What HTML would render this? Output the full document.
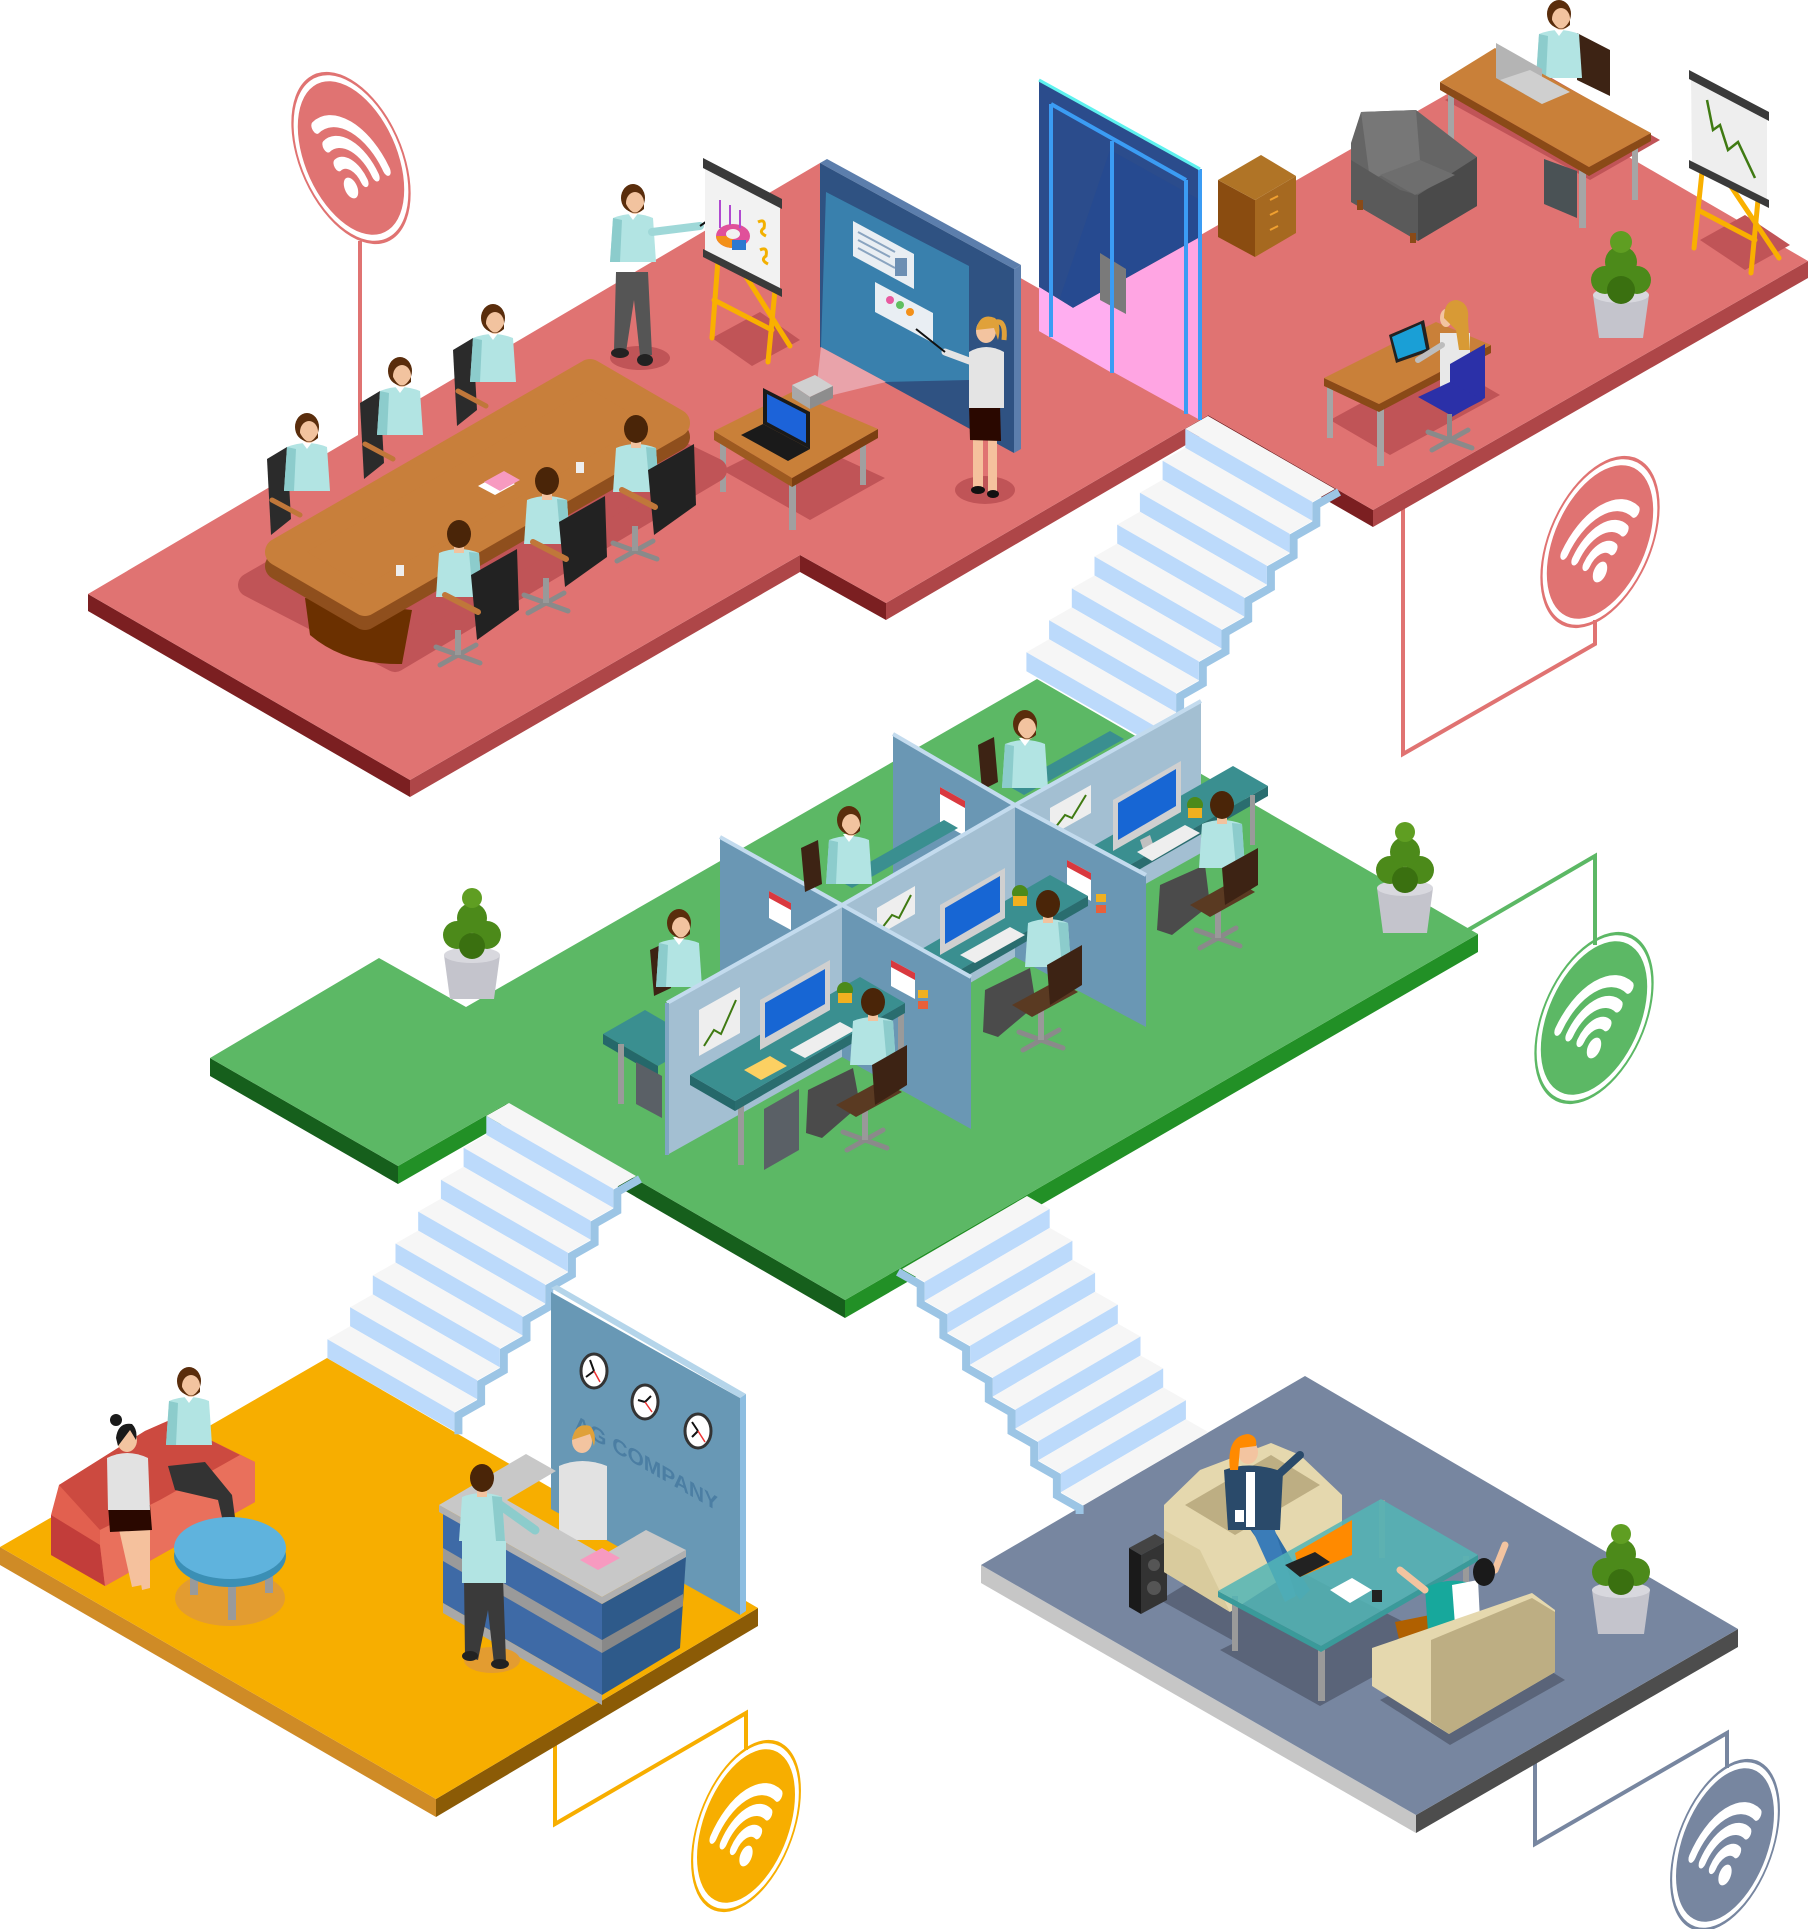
<!DOCTYPE html>
<html><head><meta charset="utf-8"><style>html,body{margin:0;padding:0;background:#fff}svg{display:block}</style></head>
<body>
<svg width="1809" height="1929" viewBox="0 0 1809 1929" xmlns="http://www.w3.org/2000/svg">
<defs>
 <g id="wifi">
  <circle r="77" fill="none" stroke="currentColor" stroke-width="3"/>
  <circle r="70" fill="currentColor"/>
  <path d="M-46.7,-9.2 A61,61 0 0 1 46.7,-9.2 M-32.2,3 A42,42 0 0 1 32.2,3 M-17.6,15.2 A23,23 0 0 1 17.6,15.2" fill="none" stroke="#fff" stroke-width="11" stroke-linecap="round"/>
  <circle cx="0" cy="30" r="9.5" fill="#fff"/>
 </g>
 <g id="stepL">
  <polygon points="0,0 127,73 104.3,85.9 -22.7,12.9" fill="#f6f6f6"/>
  <polygon points="-22.7,12.9 104.3,85.9 104.3,104.9 -22.7,31.9" fill="#bcdafb"/>
 </g>
 <g id="stairsL">
  <polyline transform="translate(4,3)" points="127,73 104.3,85.9 104.3,104.9 81.6,117.8 81.6,136.8 58.9,149.7 58.9,168.7 36.2,181.6 36.2,200.6 13.5,213.5 13.5,232.5 -9.2,245.4 -9.2,264.4 -31.9,277.3 -31.9,296.3 -54.6,309.2 -54.6,328.2" fill="none" stroke="#9cc5e5" stroke-width="8"/>
  <use href="#stepL"/>
  <use href="#stepL" x="-22.7" y="31.9"/>
  <use href="#stepL" x="-45.4" y="63.8"/>
  <use href="#stepL" x="-68.1" y="95.7"/>
  <use href="#stepL" x="-90.8" y="127.6"/>
  <use href="#stepL" x="-113.5" y="159.5"/>
  <use href="#stepL" x="-136.2" y="191.4"/>
  <use href="#stepL" x="-158.9" y="223.3"/>
 </g>
 <g id="stepR">
  <polygon points="0,0 125,-73 147.7,-60.1 22.7,12.9" fill="#f6f6f6"/>
  <polygon points="22.7,12.9 147.7,-60.1 147.7,-41.1 22.7,31.9" fill="#bcdafb"/>
 </g>
 <g id="treadR">
  <polygon points="0,0 125,-73 147.7,-60.1 22.7,12.9" fill="#f6f6f6"/>
 </g>
 <g id="manF">
  <path d="M-20,18 Q0,10 20,18 L23,62 L-23,62 Z" fill="#b2e4e3"/>
  <path d="M-20,18 L-23,62 L-13,62 L-11,20 Z" fill="#8ccccc"/>
  <path d="M-6,12 L6,12 L0,20 Z" fill="#fff"/>
  <ellipse cx="0" cy="-2" rx="12" ry="14" fill="#5a2d0c"/>
  <ellipse cx="2" cy="3" rx="9" ry="11" fill="#f2c39f"/>
  <path d="M-7,4 Q2,21 11,4 L11,9 Q2,17 -7,9 Z" fill="#5a2d0c"/>
 </g>
 <g id="manB">
  <path d="M-20,18 Q0,10 20,18 L23,62 L-23,62 Z" fill="#b2e4e3"/>
  <path d="M10,17 L20,18 L23,62 L14,62 Z" fill="#8ccccc"/>
  <rect x="-5" y="8" width="10" height="10" fill="#f2c39f"/>
  <ellipse cx="0" cy="-1" rx="12" ry="14" fill="#4a2508"/>
 </g>
 <g id="starBase" stroke="#8a8a8a" stroke-width="5" stroke-linecap="round">
  <line x1="-22" y1="-8" x2="22" y2="8"/>
  <line x1="-18" y1="10" x2="18" y2="-10"/>
 </g>
</defs>
<rect width="1809" height="1929" fill="#fff"/>

<!-- connectors -->
<g fill="none" stroke-width="4">
 <polyline points="360,241 360,445" stroke="#e07372"/>
 <polyline points="1403,500 1403,754 1595,644 1595,620" stroke="#e07372"/>
 <polyline points="1468,930 1595,856 1595,945" stroke="#5cb865"/>
 <polyline points="555,1735 555,1824 746,1713 746,1750" stroke="#f7ae00"/>
 <polyline points="1535,1755 1535,1844 1727,1733 1727,1768" stroke="#7786a0"/>
</g>
<use href="#wifi" transform="matrix(0.76,0.45,0,1,351,158)" color="#e07372"/>
<use href="#wifi" transform="matrix(0.76,-0.45,0,1,1600,542)" color="#e07372"/>
<use href="#wifi" transform="matrix(0.76,-0.45,0,1,1594,1018)" color="#5cb865"/>
<use href="#wifi" transform="matrix(0.7,-0.45,0,1,746,1826)" color="#f7ae00"/>
<use href="#wifi" transform="matrix(0.7,-0.45,0,1,1725,1845)" color="#7786a0"/>

<!-- PINK FLOOR -->
<g>
 <polygon points="88,594 410,780 410,797 88,611" fill="#7b1f21"/>
 <polygon points="800,555 886,603 886,620 800,572" fill="#7b1f21"/>
 <polygon points="1208,415 1373,510 1373,527 1208,432" fill="#7b1f21"/>
 <polygon points="410,780 800,555 800,572 410,797" fill="#ae4648"/>
 <polygon points="886,603 1208,415 1208,432 886,620" fill="#ae4648"/>
 <polygon points="1373,510 1808,261 1808,278 1373,527" fill="#ae4648"/>
 <polygon points="88,594 820,163 1073,308 1484,73 1808,261 1373,510 1208,415 886,603 800,555 410,780" fill="#e07372"/>
</g>

<!-- GREEN FLOOR -->
<g>
 <polygon points="210,1058 398,1166 398,1184 210,1076" fill="#165f1c"/>
 <polygon points="506,1104 845,1300 845,1318 506,1122" fill="#165f1c"/>
 <polygon points="398,1166 506,1104 506,1122 398,1184" fill="#229026"/>
 <polygon points="845,1300 1478,934 1478,952 845,1318" fill="#229026"/>
 <polygon points="210,1058 379,958 466,1007 1037,679 1478,934 845,1300 506,1104 398,1166" fill="#5cb865"/>
</g>

<!-- YELLOW FLOOR -->
<g>
 <polygon points="0,1547 436,1799 436,1817 0,1565" fill="#cf8b26"/>
 <polygon points="436,1799 758,1608 758,1626 436,1817" fill="#8b5b06"/>
 <polygon points="0,1547 327,1358 758,1608 436,1799" fill="#f7ae00"/>
</g>

<!-- GRAY FLOOR -->
<g>
 <polygon points="981,1565 1416,1815 1416,1833 981,1583" fill="#c6c6c6"/>
 <polygon points="1416,1815 1738,1629 1738,1647 1416,1833" fill="#4d4d4d"/>
 <polygon points="981,1565 1305,1376 1738,1629 1416,1815" fill="#7786a0"/>
</g>

<!-- STAIRS -->
<use href="#stairsL" x="1208" y="416"/>
<use href="#stairsL" x="509" y="1103"/>
<g transform="translate(902,1269)">
 <polyline transform="translate(-4,3)" points="0,0 22.7,12.9 22.7,31.9 45.4,44.8 45.4,63.8 68.1,76.7 68.1,95.7 90.8,108.6 90.8,127.6 113.5,140.5 113.5,159.5 136.2,172.4 136.2,191.4 158.9,204.3 158.9,223.3 181.6,236.2 181.6,242" fill="none" stroke="#9cc5e5" stroke-width="8"/>
 <use href="#stepR"/>
 <use href="#stepR" x="22.7" y="31.9"/>
 <use href="#stepR" x="45.4" y="63.8"/>
 <use href="#stepR" x="68.1" y="95.7"/>
 <use href="#stepR" x="90.8" y="127.6"/>
 <use href="#stepR" x="113.5" y="159.5"/>
 <use href="#stepR" x="136.2" y="191.4"/>
 <use href="#treadR" x="158.9" y="223.3"/>
</g>

<!-- ===== PINK ROOM: right section ===== -->
<polygon points="1700,240 1745,215 1790,245 1745,270" fill="#c05457"/>
<g stroke="#f9b000" stroke-width="5" stroke-linecap="round">
 <line x1="1702" y1="172" x2="1694" y2="248"/>
 <line x1="1758" y1="200" x2="1751" y2="273"/>
 <line x1="1730" y1="185" x2="1779" y2="258"/>
 <line x1="1698" y1="210" x2="1755" y2="240"/>
</g>
<polygon points="1691,76 1767,118 1767,202 1692,163" fill="#eeeeee"/>
<polygon points="1689,70 1769,112 1769,121 1689,79" fill="#3a3a3a"/>
<polygon points="1689,160 1769,200 1769,208 1689,168" fill="#3a3a3a"/>
<polyline points="1707,100 1713,130 1720,125 1728,150 1738,142 1755,178" fill="none" stroke="#3f7a12" stroke-width="2.5"/>

<polygon points="1445,100 1590,180 1660,140 1520,60" fill="#c05457"/>
<polygon points="1577,33 1610,50 1610,96 1577,80" fill="#3d2314"/>
<use href="#manF" x="1559" y="16"/>
<polygon points="1544,159 1577,171 1577,218 1544,204" fill="#4a5255"/>
<g fill="#a5a5a5">
 <rect x="1448" y="90" width="6" height="60"/>
 <rect x="1579" y="170" width="7" height="58"/>
 <rect x="1632" y="140" width="6" height="60"/>
</g>
<polygon points="1440,82 1589,167 1651,133 1651,141 1589,176 1440,90" fill="#8a4a17"/>
<polygon points="1440,82 1495,48 1651,133 1589,167" fill="#c98039"/>
<polygon points="1496,43 1542,69 1542,104 1496,78" fill="#b4b4b4"/>
<polygon points="1542,104 1570,92 1530,70 1500,80" fill="#cfcfcf"/>

<!-- armchair -->
<polygon points="1351,143 1361,112 1416,110 1477,157 1477,206 1418,241 1351,202" fill="#656565"/>
<polygon points="1361,112 1416,110 1420,160 1370,180" fill="#777"/>
<polygon points="1418,195 1477,157 1477,206 1418,241" fill="#4a4a4a"/>
<polygon points="1351,160 1400,190 1418,195 1418,241 1351,202" fill="#5a5a5a"/>
<polygon points="1380,175 1420,160 1455,175 1415,195" fill="#6e6e6e"/>
<rect x="1357" y="200" width="6" height="10" fill="#8a4a17"/>
<rect x="1410" y="233" width="6" height="10" fill="#8a4a17"/>

<!-- cabinet -->
<polygon points="1218,180 1255,200 1255,257 1218,237" fill="#8a4c10"/>
<polygon points="1255,200 1296,176 1296,233 1255,257" fill="#a66920"/>
<polygon points="1218,180 1261,155 1296,176 1255,200" fill="#b07426"/>
<g stroke="#f0a030" stroke-width="2" fill="none">
 <path d="M1270,200 l8,-4"/><path d="M1270,215 l8,-4"/><path d="M1270,230 l8,-4"/>
</g>

<!-- plant right -->
<polygon points="1593,295 1649,295 1643,338 1599,338" fill="#c4c4cc"/>
<ellipse cx="1621" cy="295" rx="28" ry="8" fill="#d8d8de"/>
<g fill="#4c8a1a">
 <circle cx="1605" cy="280" r="14"/><circle cx="1637" cy="280" r="14"/>
 <circle cx="1621" cy="262" r="16"/><circle cx="1621" cy="290" r="14" fill="#3a7010"/>
 <circle cx="1621" cy="242" r="11" fill="#5f9e22"/>
</g>

<!-- woman desk -->
<polygon points="1330,420 1440,360 1500,395 1390,455" fill="#c05457"/>
<g fill="#a5a5a5">
 <rect x="1327" y="383" width="6" height="55"/>
 <rect x="1377" y="408" width="7" height="58"/>
 <rect x="1478" y="350" width="6" height="48"/>
</g>
<polygon points="1324,378 1379,404 1491,345 1491,353 1379,412 1324,386" fill="#8a4a17"/>
<polygon points="1324,378 1436,322 1491,345 1379,404" fill="#c98039"/>
<polygon points="1389,335 1424,320 1430,351 1396,363" fill="#222"/>
<polygon points="1392,337 1421,324 1426,349 1398,359" fill="#1a9fd6"/>
<rect x="1440" y="333" width="30" height="56" fill="#e8e8e8"/>
<line x1="1442" y1="345" x2="1418" y2="360" stroke="#bdbdbd" stroke-width="6" stroke-linecap="round"/>
<ellipse cx="1446" cy="318" rx="6" ry="9" fill="#f3c4a0"/>
<path d="M1444,318 Q1444,300 1457,300 Q1470,303 1468,320 L1470,350 L1459,350 L1456,330 Z" fill="#d89a35"/>
<polygon points="1450,364 1485,344 1485,398 1450,418" fill="#2b30a8"/>
<polygon points="1418,397 1450,382 1483,400 1452,416" fill="#2b30a8"/>
<use href="#starBase" x="1450" y="440"/>
<rect x="1447" y="414" width="5" height="24" fill="#8a8a8a"/>

<!-- DOOR -->
<polygon points="1039,80 1200,169 1200,237 1073,308 1039,287" fill="#2b4c8c"/>
<polygon points="1110,150 1200,200 1200,237 1073,308 1060,298" fill="#264a90"/>
<polygon points="1039,287 1073,308 1200,237 1200,420 1039,331" fill="#ffa5e3"/>
<polygon points="1039,287 1073,308 1112,286 1112,373 1039,331" fill="#ffaef0"/>
<polygon points="1100,253 1126,269 1126,314 1100,300" fill="#7a7a7a"/>
<g stroke="#3b9cf4" stroke-width="4" fill="none">
 <line x1="1051" y1="104" x2="1051" y2="337"/>
 <line x1="1112" y1="141" x2="1112" y2="373"/>
 <line x1="1186" y1="180" x2="1186" y2="414"/>
 <line x1="1051" y1="104" x2="1186" y2="180"/>
 <line x1="1200" y1="169" x2="1200" y2="420"/>
</g>
<line x1="1039" y1="80" x2="1200" y2="169" stroke="#5ef2ef" stroke-width="3"/>

<!-- PROJECTION WALL -->
<polygon points="1014,269 1021,265 1021,449 1014,453" fill="#5c7eac"/>
<polygon points="820,163 827,159 1021,265 1014,269" fill="#5c7eac"/>
<polygon points="820,163 1014,269 1014,453 820,347" fill="#2f5282"/>
<polygon points="826,192 969,266 969,380 886,382 821,347" fill="#3980ad"/>
<polygon points="821,347 886,382 833,395 816,392" fill="#e9a3aa"/>
<polygon points="853,221 914,254 914,289 853,256" fill="#e9eef3"/>
<polygon points="875,282 933,313 933,343 875,312" fill="#e9eef3"/>
<g stroke="#8aa4c0" stroke-width="2">
 <line x1="858" y1="232" x2="895" y2="252"/><line x1="858" y1="240" x2="890" y2="257"/><line x1="858" y1="248" x2="895" y2="268"/>
</g>
<rect x="895" y="258" width="12" height="18" fill="#6d8fb3"/>
<g fill="#e85aa0"><circle cx="890" cy="300" r="4"/></g>
<g fill="#60c060"><circle cx="900" cy="305" r="4"/></g>
<g fill="#f39019"><circle cx="910" cy="312" r="4"/></g>

<!-- presenter man + easel -->
<ellipse cx="640" cy="358" rx="30" ry="12" fill="#c05457"/>
<polygon points="712,338 760,312 800,340 752,366" fill="#c05457"/>
<polygon points="616,272 648,272 652,355 640,356 634,300 626,352 614,350" fill="#555"/>
<ellipse cx="620" cy="353" rx="9" ry="5" fill="#222"/>
<ellipse cx="645" cy="360" rx="8" ry="6" fill="#222"/>
<use href="#manF" x="633" y="200"/>
<line x1="652" y1="232" x2="700" y2="226" stroke="#9fd8d8" stroke-width="8" stroke-linecap="round"/>
<line x1="700" y1="226" x2="742" y2="197" stroke="#111" stroke-width="2"/>
<g stroke="#f9b000" stroke-width="5" stroke-linecap="round">
 <line x1="718" y1="260" x2="712" y2="338"/>
 <line x1="775" y1="290" x2="768" y2="362"/>
 <line x1="745" y1="275" x2="790" y2="346"/>
 <line x1="714" y1="300" x2="772" y2="330"/>
</g>
<polygon points="705,165 780,204 780,292 705,253" fill="#f2f2f2"/>
<polygon points="703,158 782,199 782,209 703,168" fill="#3a3a3a"/>
<polygon points="703,249 782,289 782,297 703,257" fill="#3a3a3a"/>
<ellipse cx="733" cy="236" rx="17" ry="12" fill="#e0509a"/>
<path d="M716,236 A17,12 0 0 0 733,248 L733,236 Z" fill="#f39019"/>
<ellipse cx="733" cy="234" rx="7" ry="5" fill="#f2f2f2"/>
<rect x="732" y="240" width="14" height="10" fill="#2d79d0"/>
<g stroke="#b04ad0" stroke-width="2"><line x1="720" y1="200" x2="720" y2="228"/><line x1="730" y1="205" x2="730" y2="225"/><line x1="740" y1="210" x2="740" y2="228"/></g>
<path d="M758,222 q8,-4 6,6 q-6,4 2,8" fill="none" stroke="#f3b000" stroke-width="3"/>
<path d="M760,250 q8,-4 6,6 q-6,4 2,8" fill="none" stroke="#f3b000" stroke-width="3"/>

<!-- small table -->
<polygon points="722,470 792,435 885,478 810,520" fill="#c05457"/>
<g fill="#a0a0a0">
 <rect x="720" y="438" width="6" height="54"/>
 <rect x="789" y="484" width="7" height="46"/>
 <rect x="860" y="435" width="6" height="50"/>
</g>
<polygon points="714,431 792,478 792,487 714,440" fill="#9d5a20"/>
<polygon points="792,478 878,429 878,438 792,487" fill="#7b3f12"/>
<polygon points="714,431 792,392 878,429 792,478" fill="#c98039"/>
<polygon points="741,435 763,424 810,449 788,461" fill="#1a1a1a"/>
<polygon points="763,388 810,412 810,449 763,424" fill="#1a1a1a"/>
<polygon points="767,394 806,414 806,443 767,422" fill="#1c63d9"/>
<polygon points="792,385 815,375 833,386 810,397" fill="#d0d0d0"/>
<polygon points="792,385 810,397 810,409 792,398" fill="#a8a8a8"/>
<polygon points="810,397 833,386 833,398 810,409" fill="#8d8d8d"/>

<!-- presenter woman -->
<ellipse cx="985" cy="490" rx="30" ry="14" fill="#c05457"/>
<rect x="973" y="437" width="10" height="52" fill="#f5c19d"/>
<rect x="988" y="440" width="9" height="52" fill="#f5c19d"/>
<ellipse cx="978" cy="490" rx="7" ry="4" fill="#111"/>
<ellipse cx="993" cy="494" rx="6" ry="4" fill="#111"/>
<polygon points="969,404 1000,405 1001,441 970,440" fill="#2a0800"/>
<path d="M969,352 Q986,342 1004,352 L1004,408 L969,408 Z" fill="#e4e4e4"/>
<line x1="972" y1="362" x2="945" y2="352" stroke="#e4e4e4" stroke-width="7" stroke-linecap="round"/>
<line x1="945" y1="352" x2="916" y2="329" stroke="#111" stroke-width="2"/>
<ellipse cx="986" cy="331" rx="10" ry="12" fill="#f3c4a0"/>
<path d="M976,330 Q980,312 995,318 Q1002,325 998,340 L994,328 Z" fill="#e0a13a"/>
<path d="M996,322 Q1006,320 1004,340" fill="none" stroke="#e0a13a" stroke-width="5"/>

<!-- MEETING TABLE -->
<polygon points="250,585 570,400 715,470 395,660" fill="#c05457" stroke="#c05457" stroke-width="24" stroke-linejoin="round"/>
<polygon points="267,459 287,447 291,519 271,535" fill="#2b2b2b"/>
<polygon points="360,403 380,391 384,463 364,479" fill="#2b2b2b"/>
<polygon points="453,350 473,338 477,410 457,426" fill="#2b2b2b"/>
<use href="#manF" x="307" y="429"/>
<use href="#manF" x="400" y="373"/>
<use href="#manF" x="493" y="320"/>
<g stroke="#c0773a" stroke-width="5" stroke-linecap="round">
 <line x1="272" y1="500" x2="300" y2="515"/>
 <line x1="365" y1="444" x2="393" y2="459"/>
 <line x1="458" y1="391" x2="486" y2="406"/>
</g>
<path d="M305,598 L310,635 Q345,665 402,664 L412,610 Z" fill="#6b3000"/>
<polygon points="279,566 590,387 676,437 365,616" fill="#8f4f1d" stroke="#8f4f1d" stroke-width="28" stroke-linejoin="round"/>
<polygon points="279,552 590,373 676,423 365,602" fill="#c87f3b" stroke="#c87f3b" stroke-width="28" stroke-linejoin="round"/>
<polygon points="478,486 498,475 515,484 495,495" fill="#fff"/>
<polygon points="484,482 504,471 520,480 500,491" fill="#f79ac0"/>
<rect x="396" y="565" width="8" height="11" fill="#eee"/>
<rect x="576" y="462" width="8" height="11" fill="#eee"/>
<use href="#manB" x="459" y="535"/>
<use href="#manB" x="547" y="482"/>
<use href="#manB" x="636" y="430"/>
<g fill="#222">
 <polygon points="471,575 517,549 519,610 477,640"/>
 <polygon points="559,522 605,496 607,557 565,587"/>
 <polygon points="648,470 694,444 696,505 654,535"/>
</g>
<g stroke="#c0773a" stroke-width="6" stroke-linecap="round">
 <line x1="445" y1="595" x2="478" y2="612"/>
 <line x1="533" y1="542" x2="566" y2="559"/>
 <line x1="622" y1="490" x2="655" y2="507"/>
</g>
<use href="#starBase" x="458" y="655"/>
<use href="#starBase" x="546" y="603"/>
<use href="#starBase" x="635" y="551"/>
<g fill="#999"><rect x="455" y="630" width="6" height="25"/><rect x="543" y="578" width="6" height="25"/><rect x="632" y="526" width="6" height="25"/></g>

<!-- ===== GREEN ROOM ===== -->
<polygon points="444,955 500,955 494,999 450,999" fill="#c4c4cc"/>
<ellipse cx="472" cy="955" rx="28" ry="8" fill="#d8d8de"/>
<g fill="#4c8a1a">
 <circle cx="457" cy="935" r="14"/><circle cx="487" cy="935" r="14"/>
 <circle cx="472" cy="918" r="15"/><circle cx="472" cy="946" r="13" fill="#3a7010"/>
 <circle cx="472" cy="898" r="10" fill="#5f9e22"/>
</g>
<polygon points="1377,888 1433,888 1427,933 1383,933" fill="#c4c4cc"/>
<ellipse cx="1405" cy="888" rx="28" ry="8" fill="#d8d8de"/>
<g fill="#4c8a1a">
 <circle cx="1390" cy="870" r="14"/><circle cx="1420" cy="870" r="14"/>
 <circle cx="1405" cy="852" r="15"/><circle cx="1405" cy="880" r="13" fill="#3a7010"/>
 <circle cx="1405" cy="832" r="10" fill="#5f9e22"/>
</g>

<!-- g1 -->
<polygon points="1010,787 1110,731 1124,739 1024,795" fill="#3a8f90"/>
<polygon points="978,745 994,737 998,782 982,790" fill="#3d2314"/>
<use href="#manF" x="1025" y="726"/>
<!-- D1, V1 -->
<polygon points="893,734 1015,805 1015,957 893,886" fill="#6a97b4"/>
<line x1="893" y1="734" x2="1015" y2="805" stroke="#c3dbee" stroke-width="4"/>
<polygon points="940,787 965,801 965,836 940,822" fill="#fff"/>
<polygon points="940,787 965,801 965,808 940,794" fill="#d9393f"/>
<polygon points="1015,805 1201,701 1201,853 1015,957" fill="#a3bfd2"/>
<line x1="1015" y1="805" x2="1201" y2="701" stroke="#c3dbee" stroke-width="4"/>
<polygon points="1050,808 1091,785 1091,813 1050,836" fill="#eee"/>
<polyline points="1055,828 1065,815 1072,818 1086,795" fill="none" stroke="#3f7a12" stroke-width="2"/>
<!-- g4 -->
<polygon points="1093,846 1233,766 1268,786 1128,866" fill="#3a8f90"/>
<polygon points="1128,866 1268,786 1268,796 1128,876" fill="#2a6d6f"/>
<rect x="1130" y="874" width="5" height="50" fill="#9a9a9a"/>
<rect x="1250" y="795" width="5" height="50" fill="#9a9a9a"/>
<polygon points="1113,800 1181,761 1181,812 1113,851" fill="#d0d0d0"/>
<polygon points="1118,803 1176,769 1176,806 1118,840" fill="#1766d4"/>
<polygon points="1140,840 1150,835 1155,850 1145,855" fill="#c0c0c0"/>
<polygon points="1137,852 1185,825 1200,833 1152,861" fill="#eeeeee"/>
<circle cx="1195" cy="805" r="8" fill="#4c8a1a"/><rect x="1188" y="808" width="14" height="10" fill="#f0b020"/>
<use href="#starBase" x="1218" y="938"/>
<rect x="1215" y="900" width="6" height="38" fill="#999"/>
<polygon points="1160,885 1205,865 1210,905 1172,935 1157,930" fill="#4b4b4b"/>
<polygon points="1190,905 1235,880 1255,892 1210,917" fill="#5a3a22"/>
<use href="#manB" x="1222" y="806"/>
<polygon points="1222,868 1258,848 1258,885 1225,905" fill="#3d2314"/>
<!-- D2 -->
<polygon points="1015,805 1146,875 1146,1027 1015,957" fill="#6a97b4"/>
<line x1="1015" y1="805" x2="1146" y2="875" stroke="#c3dbee" stroke-width="4"/>
<polygon points="1067,860 1091,873 1091,901 1067,888" fill="#fff"/>
<polygon points="1067,860 1091,873 1091,880 1067,867" fill="#d9393f"/>
<rect x="1096" y="894" width="10" height="8" fill="#f0b020"/><rect x="1096" y="905" width="10" height="8" fill="#e8603a"/>
<!-- D4 -->
<polygon points="720,837 842,905 842,1057 720,989" fill="#6a97b4"/>
<line x1="720" y1="837" x2="842" y2="905" stroke="#c3dbee" stroke-width="4"/>
<polygon points="769,891 791,903 791,930 769,918" fill="#fff"/>
<polygon points="769,891 791,903 791,910 769,898" fill="#d9393f"/>
<!-- g2 -->
<polygon points="838,880 944,820 958,828 852,888" fill="#3a8f90"/>
<polygon points="801,848 818,840 822,884 805,892" fill="#3d2314"/>
<use href="#manF" x="849" y="822"/>
<!-- V2 -->
<polygon points="842,905 1015,805 1015,957 842,1057" fill="#a3bfd2"/>
<line x1="842" y1="905" x2="1015" y2="805" stroke="#c3dbee" stroke-width="4"/>
<polygon points="877,908 915,886 915,914 877,936" fill="#eee"/>
<polyline points="882,928 892,915 899,918 911,895" fill="none" stroke="#3f7a12" stroke-width="2"/>
<!-- g5 -->
<polygon points="920,950 1050,875 1088,896 958,971" fill="#3a8f90"/>
<polygon points="958,971 1088,896 1088,906 958,981" fill="#2a6d6f"/>
<polygon points="940,905 1005,868 1005,918 940,955" fill="#d0d0d0"/>
<polygon points="945,908 1000,876 1000,912 945,944" fill="#1766d4"/>
<polygon points="960,955 1010,927 1025,935 975,963" fill="#eeeeee"/>
<circle cx="1020" cy="893" r="8" fill="#4c8a1a"/><rect x="1013" y="896" width="14" height="10" fill="#f0b020"/>
<use href="#starBase" x="1041" y="1040"/>
<rect x="1038" y="1000" width="6" height="40" fill="#999"/>
<polygon points="985,990 1030,968 1036,1005 998,1037 983,1032" fill="#4b4b4b"/>
<polygon points="1012,1005 1058,980 1078,992 1032,1017" fill="#5a3a22"/>
<use href="#manB" x="1048" y="905"/>
<polygon points="1047,965 1082,945 1082,985 1050,1005" fill="#3d2314"/>
<!-- D3 -->
<polygon points="842,905 971,977 971,1129 842,1057" fill="#6a97b4"/>
<line x1="842" y1="905" x2="971" y2="977" stroke="#c3dbee" stroke-width="4"/>
<polygon points="891,960 915,973 915,999 891,986" fill="#fff"/>
<polygon points="891,960 915,973 915,980 891,967" fill="#d9393f"/>
<rect x="918" y="990" width="10" height="8" fill="#f0b020"/><rect x="918" y="1001" width="10" height="8" fill="#e8603a"/>
<!-- g3 -->
<polygon points="650,950 667,942 671,988 654,996" fill="#3d2314"/>
<use href="#manF" x="679" y="925"/>
<polygon points="603,1034 645,1010 700,1042 658,1066" fill="#3a8f90"/>
<polygon points="603,1034 658,1066 658,1076 603,1044" fill="#25686a"/>
<rect x="618" y="1044" width="6" height="60" fill="#9a9a9a"/>
<polygon points="636,1062 662,1076 662,1118 636,1104" fill="#5a6066"/>
<!-- V3 -->
<polygon points="667,1003 842,905 842,1057 667,1155" fill="#a3bfd2"/>
<line x1="667" y1="1003" x2="842" y2="905" stroke="#c3dbee" stroke-width="4"/>
<line x1="667" y1="1003" x2="667" y2="1155" stroke="#7fa6c2" stroke-width="4"/>
<polygon points="699,1010 740,987 740,1033 699,1056" fill="#eee"/>
<polyline points="704,1046 714,1030 721,1034 736,1000" fill="none" stroke="#3f7a12" stroke-width="2"/>
<!-- g6 -->
<polygon points="764,1109 799,1089 799,1150 764,1170" fill="#5a6066"/>
<rect x="738" y="1105" width="6" height="60" fill="#9a9a9a"/>
<rect x="898" y="1010" width="6" height="55" fill="#9a9a9a"/>
<polygon points="690,1075 735,1101 735,1111 690,1085" fill="#25686a"/>
<polygon points="735,1101 905,1003 905,1013 735,1111" fill="#2a6d6f"/>
<polygon points="690,1075 860,977 905,1003 735,1101" fill="#3a8f90"/>
<polygon points="760,1000 830,960 830,1010 760,1050" fill="#d0d0d0"/>
<polygon points="765,1003 825,969 825,1004 765,1038" fill="#1766d4"/>
<polygon points="790,1050 840,1022 855,1030 805,1058" fill="#eeeeee"/>
<polygon points="744,1070 770,1056 787,1066 761,1080" fill="#fcd062"/>
<circle cx="845" cy="990" r="8" fill="#4c8a1a"/><rect x="838" y="993" width="14" height="10" fill="#f0b020"/>
<use href="#starBase" x="865" y="1140"/>
<rect x="862" y="1100" width="6" height="40" fill="#999"/>
<polygon points="808,1090 853,1068 860,1105 822,1138 806,1133" fill="#4b4b4b"/>
<polygon points="836,1105 882,1080 902,1092 856,1117" fill="#5a3a22"/>
<use href="#manB" x="873" y="1003"/>
<polygon points="872,1065 907,1045 907,1085 875,1105" fill="#3d2314"/>

<!-- ===== YELLOW ROOM ===== -->
<polygon points="551,1288 557,1285 746,1394 740,1398" fill="#b5d5ea"/>
<polygon points="551,1292 740,1398 740,1615 551,1509" fill="#6898b5"/>
<polygon points="740,1398 746,1394 746,1611 740,1615" fill="#8cbde0"/>
<text transform="matrix(1,0.577,0,1,575,1429)" font-family="Liberation Sans, sans-serif" font-weight="bold" font-size="21" fill="#4b7ea3">AG COMPANY</text>
<g fill="#fff" stroke="#333" stroke-width="3">
 <ellipse cx="594" cy="1371" rx="13" ry="17"/>
 <ellipse cx="645" cy="1402" rx="13" ry="17"/>
 <ellipse cx="698" cy="1431" rx="13" ry="17"/>
</g>
<g stroke="#111" stroke-width="2">
 <line x1="594" y1="1371" x2="590" y2="1360"/><line x1="594" y1="1371" x2="586" y2="1377"/>
 <line x1="645" y1="1402" x2="651" y2="1396"/><line x1="645" y1="1402" x2="638" y2="1400"/>
 <line x1="698" y1="1431" x2="692" y2="1422"/><line x1="698" y1="1431" x2="692" y2="1437"/>
</g>
<g stroke="#e33" stroke-width="1.5"><line x1="594" y1="1371" x2="600" y2="1382"/><line x1="645" y1="1402" x2="652" y2="1412"/><line x1="698" y1="1431" x2="705" y2="1442"/></g>
<!-- sofa -->
<polygon points="59,1485 145,1431 170,1420 255,1462 255,1502 105,1586 51,1555 51,1515" fill="#e2604f"/>
<polygon points="59,1485 145,1431 170,1420 240,1455 160,1500 100,1530" fill="#cc4a40"/>
<polygon points="51,1515 100,1545 105,1586 51,1555" fill="#c23d3a"/>
<polygon points="100,1530 160,1500 240,1455 255,1462 255,1502 105,1586 100,1545" fill="#e9705c"/>
<!-- man on sofa -->
<polygon points="168,1466 205,1462 232,1495 236,1525 224,1526 218,1500 175,1490" fill="#333"/>
<use href="#manF" x="189" y="1383"/>
<!-- woman on sofa -->
<polygon points="132,1525 150,1520 150,1588 142,1590" fill="#f5c19d"/>
<polygon points="118,1525 135,1520 142,1585 132,1587" fill="#f5c19d"/>
<polygon points="108,1505 150,1505 152,1530 110,1532" fill="#2a0800"/>
<path d="M107,1458 Q127,1448 148,1458 L150,1510 L108,1510 Z" fill="#e2e2e2"/>
<ellipse cx="127" cy="1440" rx="10" ry="12" fill="#f3c4a0"/>
<path d="M116,1438 Q118,1422 132,1424 Q138,1430 136,1440 L130,1430 L118,1446Z" fill="#1a1a1a"/>
<circle cx="116" cy="1420" r="6" fill="#1a1a1a"/>
<!-- round table -->
<ellipse cx="230" cy="1598" rx="55" ry="28" fill="#e39c30"/>
<g fill="#9a9a9a"><rect x="190" y="1565" width="8" height="30"/><rect x="228" y="1585" width="8" height="35"/><rect x="265" y="1565" width="8" height="28"/></g>
<ellipse cx="230" cy="1556" rx="56" ry="31" fill="#3b8fb5"/>
<ellipse cx="230" cy="1548" rx="56" ry="31" fill="#5fb3dd"/>
<!-- receptionist -->
<ellipse cx="582" cy="1441" rx="10" ry="12" fill="#f3c4a0"/>
<path d="M572,1440 Q575,1422 590,1426 Q597,1433 594,1446 L590,1434 Z" fill="#e0a13a"/>
<path d="M559,1466 Q582,1456 607,1466 L607,1540 L559,1540 Z" fill="#e2e2e2"/>
<!-- reception desk -->
<polygon points="443,1512 602,1604 602,1695 443,1603" fill="#3e6aa6"/>
<polygon points="443,1548 602,1640 602,1653 443,1561" fill="#9a9a9a"/>
<polygon points="602,1604 686,1557 680,1648 602,1695" fill="#2e5a8a"/>
<polygon points="602,1640 683,1594 683,1606 602,1653" fill="#888"/>
<polygon points="443,1603 602,1695 602,1705 443,1613" fill="#a8a8a8"/>
<polygon points="439,1505 526,1454 556,1471 507,1500 603,1555 646,1530 686,1550 602,1597" fill="#c8c8c8"/>
<polygon points="439,1505 602,1597 686,1550 686,1557 602,1604 439,1512" fill="#b0b0b0"/>
<polygon points="580,1560 602,1548 620,1558 598,1570" fill="#f79ac0"/>
<!-- standing man -->
<ellipse cx="492" cy="1660" rx="28" ry="13" fill="#e39c30"/>
<polygon points="464,1578 503,1578 506,1662 494,1664 488,1610 478,1660 465,1656" fill="#3a3a3a"/>
<ellipse cx="470" cy="1656" rx="8" ry="5" fill="#222"/>
<ellipse cx="500" cy="1664" rx="9" ry="5" fill="#222"/>
<use href="#manB" x="482" y="1479"/>
<rect x="462" y="1541" width="44" height="42" fill="#b2e4e3"/>
<line x1="500" y1="1505" x2="535" y2="1530" stroke="#8ccccc" stroke-width="9" stroke-linecap="round"/>

<!-- ===== GRAY ROOM ===== -->
<polygon points="1160,1600 1250,1650 1345,1595 1250,1545" fill="#5a6479"/>
<polygon points="1220,1650 1320,1706 1440,1640 1340,1590" fill="#5a6479"/>
<polygon points="1380,1700 1450,1745 1565,1680 1500,1640" fill="#5a6479"/>
<polygon points="1129,1548 1155,1534 1167,1541 1141,1555" fill="#444"/>
<polygon points="1141,1555 1167,1541 1167,1600 1141,1614" fill="#333"/>
<polygon points="1129,1548 1141,1555 1141,1614 1129,1607" fill="#1a1a1a"/>
<circle cx="1154" cy="1565" r="6" fill="#555"/><circle cx="1154" cy="1588" r="7" fill="#555"/>
<polygon points="1164,1505 1200,1470 1271,1443 1300,1455 1342,1495 1342,1540 1230,1612 1164,1572" fill="#e5d8ae"/>
<polygon points="1185,1505 1271,1455 1320,1485 1235,1535" fill="#bdae83"/>
<polygon points="1164,1530 1200,1550 1230,1612 1164,1572" fill="#d9cb9d"/>
<polygon points="1240,1515 1262,1510 1310,1590 1300,1600" fill="#2e6ca6"/>
<polygon points="1250,1525 1270,1515 1296,1596 1285,1602" fill="#3a7cb8"/>
<path d="M1224,1470 Q1250,1460 1283,1472 L1280,1530 L1228,1530 Z" fill="#2a4a6a"/>
<rect x="1246" y="1472" width="9" height="55" fill="#fff"/>
<line x1="1278" y1="1475" x2="1300" y2="1455" stroke="#2a4a6a" stroke-width="8" stroke-linecap="round"/>
<ellipse cx="1248" cy="1452" rx="10" ry="12" fill="#f3c4a0"/>
<path d="M1230,1470 Q1226,1436 1248,1434 Q1258,1436 1256,1446 L1240,1448 L1238,1470 Z" fill="#ff8a00"/>
<rect x="1235" y="1510" width="9" height="12" fill="#fff"/>
<g fill="#9a9a9a">
 <rect x="1232" y="1596" width="6" height="55"/>
 <rect x="1318" y="1646" width="7" height="55"/>
 <rect x="1379" y="1500" width="6" height="58"/>
 <rect x="1463" y="1556" width="6" height="55"/>
</g>
<polygon points="1218,1591 1321,1646 1478,1555 1478,1561 1321,1652 1218,1597" fill="#3a9a9a"/>
<polygon points="1218,1591 1381,1499 1478,1555 1321,1646" fill="#52b5b5" fill-opacity="0.85"/>
<polygon points="1295,1553 1352,1520 1352,1555 1300,1577" fill="#ff8a00"/>
<polygon points="1285,1565 1300,1577 1330,1562 1315,1552" fill="#222"/>
<polygon points="1330,1590 1352,1578 1372,1590 1350,1603" fill="#fff"/>
<rect x="1372" y="1590" width="10" height="12" fill="#222"/>
<polygon points="1395,1622 1445,1612 1450,1650 1405,1665" fill="#b06000"/>
<path d="M1425,1588 Q1450,1575 1475,1585 L1472,1628 L1428,1632 Z" fill="#17a89c"/>
<polygon points="1452,1585 1478,1580 1480,1620 1455,1625" fill="#fff"/>
<line x1="1425" y1="1590" x2="1400" y2="1570" stroke="#f3c4a0" stroke-width="7" stroke-linecap="round"/>
<line x1="1495" y1="1570" x2="1505" y2="1545" stroke="#f3c4a0" stroke-width="7" stroke-linecap="round"/>
<ellipse cx="1484" cy="1572" rx="11" ry="14" fill="#1a1a1a"/>
<polygon points="1372,1648 1532,1593 1555,1610 1555,1672 1449,1734 1372,1686" fill="#e5d8ae"/>
<polygon points="1431,1640 1532,1598 1555,1612 1555,1672 1449,1734 1431,1722" fill="#bdae83"/>
<polygon points="1592,1590 1650,1590 1644,1634 1598,1634" fill="#c4c4cc"/>
<ellipse cx="1621" cy="1590" rx="29" ry="8" fill="#d8d8de"/>
<g fill="#4c8a1a">
 <circle cx="1606" cy="1572" r="14"/><circle cx="1636" cy="1572" r="14"/>
 <circle cx="1621" cy="1554" r="15"/><circle cx="1621" cy="1582" r="13" fill="#3a7010"/>
 <circle cx="1621" cy="1534" r="10" fill="#5f9e22"/>
</g>
</svg>
</body>
</html>
